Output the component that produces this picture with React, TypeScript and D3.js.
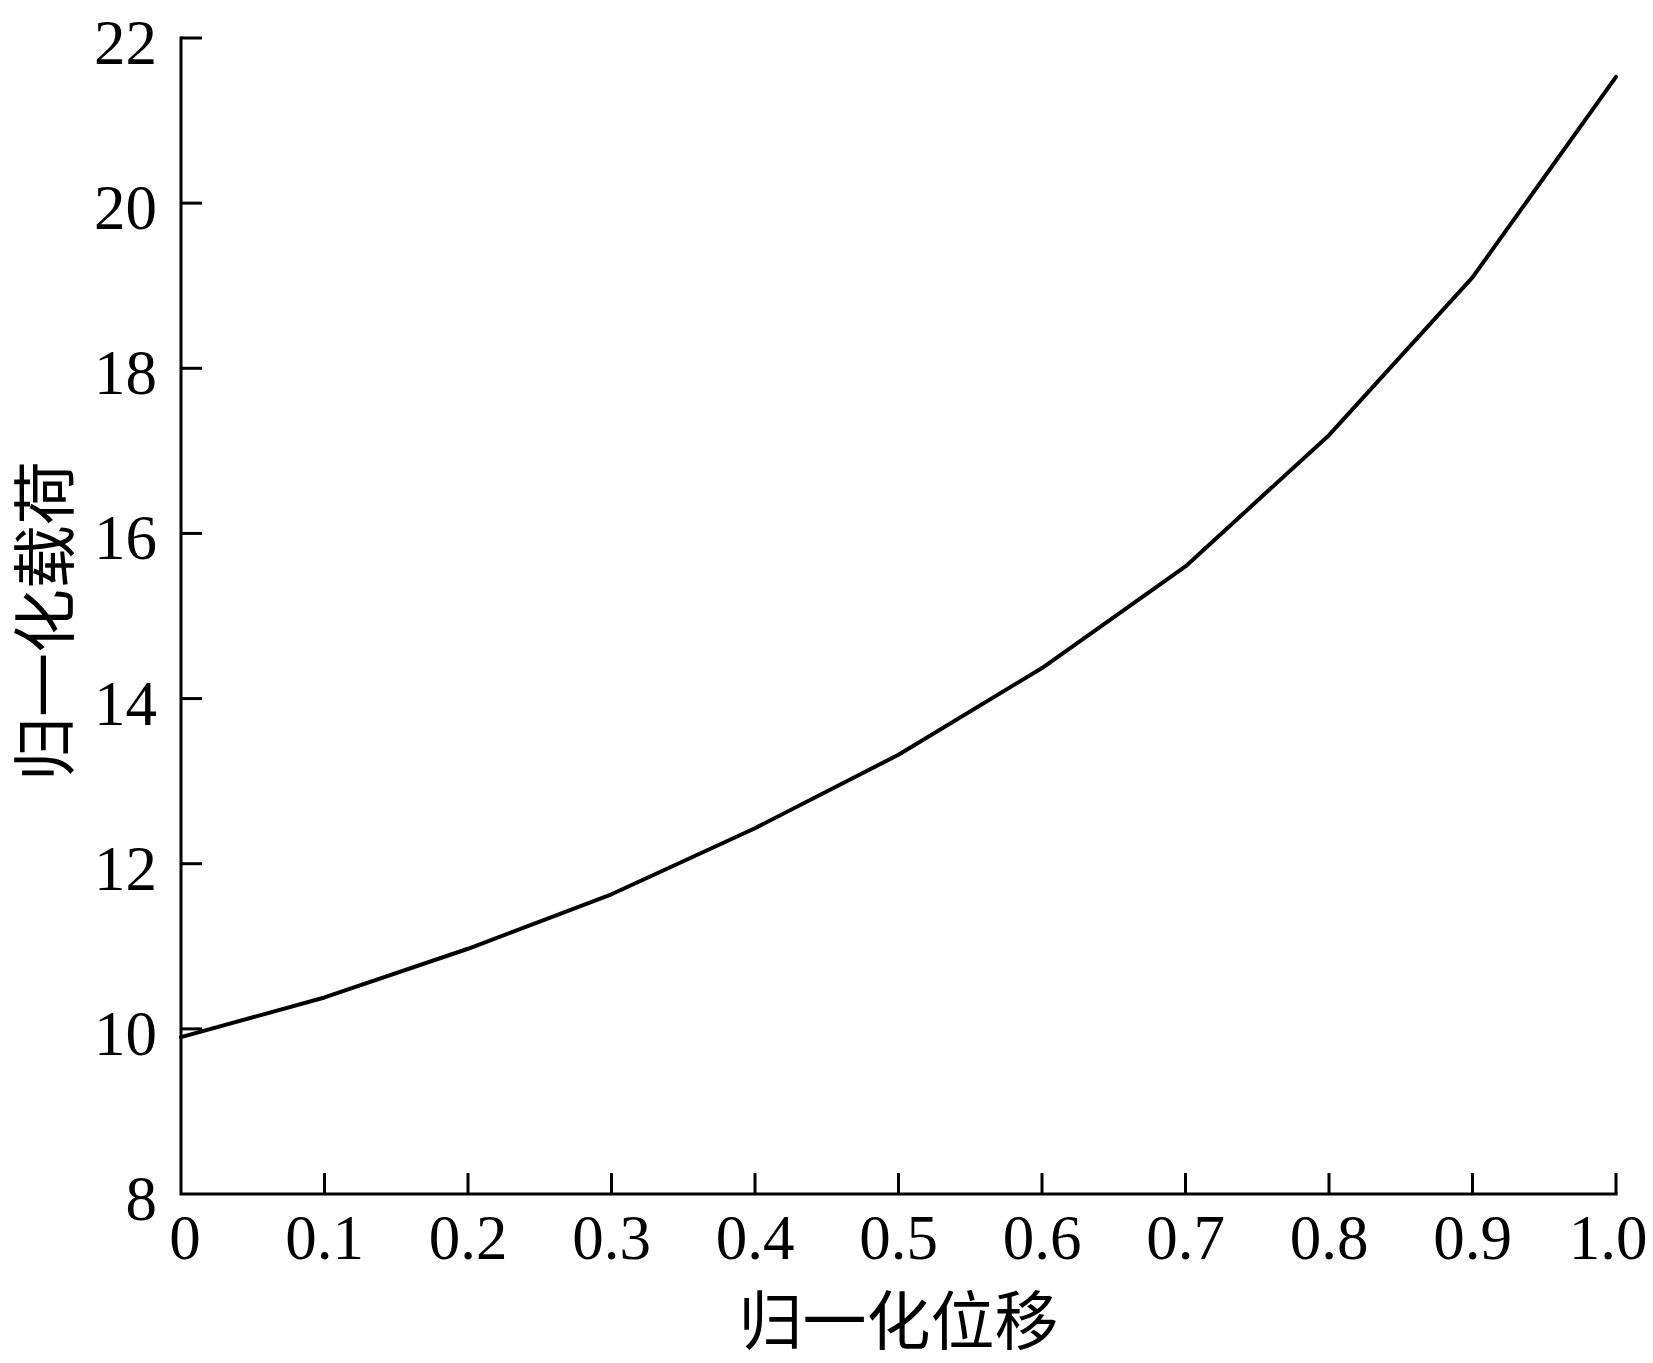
import React from "react";
import * as d3 from "d3";

const xValues = [0, 0.1, 0.2, 0.3, 0.4, 0.5, 0.6, 0.7, 0.8, 0.9, 1.0];
const loadValues = [9.9, 10.38, 10.97, 11.63, 12.43, 13.32, 14.37, 15.6, 17.19, 19.1, 21.53];
const xTicks = [0, 0.1, 0.2, 0.3, 0.4, 0.5, 0.6, 0.7, 0.8, 0.9, 1.0];
const xTickLabels = ["0", "0.1", "0.2", "0.3", "0.4", "0.5", "0.6", "0.7", "0.8", "0.9", "1.0"];
const yTicks = [8, 10, 12, 14, 16, 18, 20, 22];
const xTitle = "归一化位移";
const yTitle = "归一化载荷";

const W = 1653;
const H = 1363;
const left = 181;
const right = 1616;
const top = 38;
const bottom = 1194;

export default function App() {
  const x = d3.scaleLinear().domain([0, 1]).range([left, right]);
  const y = d3.scaleLinear().domain([8, 22]).range([bottom, top]);
  const line = d3
    .line<number>()
    .x((_, i) => x(xValues[i]))
    .y((d) => y(d));
  const serif = "'Liberation Serif', 'Times New Roman', serif";
  const cjk = "'Noto Sans CJK SC', sans-serif";
  const last = xTicks.length - 1;
  return (
    <svg
      width={W}
      height={H}
      style={{ position: "absolute", left: 0, top: 0, background: "#fff" }}
    >
      <rect x={0} y={0} width={W} height={H} fill="#fff" />
      <path
        d={`M${left},${top}V${bottom}H${right}`}
        fill="none"
        stroke="#000"
        strokeWidth={3}
        strokeLinecap="square"
      />
      {yTicks.map((t) => (
        <g key={"y" + t}>
          {t !== 8 && (
            <line x1={left} x2={left + 21} y1={y(t)} y2={y(t)} stroke="#000" strokeWidth={3} />
          )}
          <text
            x={left - 24}
            y={y(t) + 5}
            textAnchor="end"
            dominantBaseline="central"
            fontFamily={serif}
            fontSize={63}
            fill="#000"
          >
            {t}
          </text>
        </g>
      ))}
      {xTicks.map((t, i) => (
        <g key={"x" + t}>
          {i !== 0 && (
            <line x1={x(t)} x2={x(t)} y1={bottom} y2={bottom - 21} stroke="#000" strokeWidth={3} />
          )}
          <text
            x={x(t) + (i === 0 ? 4 : i === last ? -8 : 0)}
            y={bottom + 44}
            textAnchor="middle"
            dominantBaseline="central"
            fontFamily={serif}
            fontSize={63}
            fill="#000"
          >
            {xTickLabels[i]}
          </text>
        </g>
      ))}
      <path
        d={line(loadValues) || ""}
        fill="none"
        stroke="#000"
        strokeWidth={4}
        strokeLinejoin="round"
        strokeLinecap="round"
      />
      <text
        x={(left + right) / 2}
        y={1316}
        textAnchor="middle"
        dominantBaseline="central"
        fontFamily={cjk}
        fontSize={64}
        fill="#000"
      >
        {xTitle}
      </text>
      <text
        transform={`translate(40,${(top + bottom) / 2 + 5}) rotate(-90)`}
        textAnchor="middle"
        dominantBaseline="central"
        fontFamily={cjk}
        fontSize={64}
        fill="#000"
      >
        {yTitle}
      </text>
    </svg>
  );
}
